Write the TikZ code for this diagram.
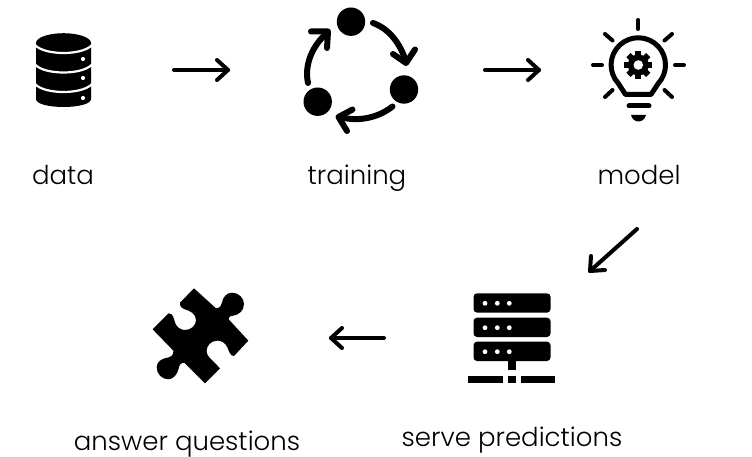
\documentclass[tikz,border=0pt]{standalone}
\usepackage{fontspec}
\setmainfont{Poppins}[UprightFont=* Light]
\usetikzlibrary{arrows.meta}
\tikzset{
  lbl/.style={anchor=base,inner sep=0pt,font=\fontsize{26}{30}\selectfont,text=black},
  flow/.style={line width=4pt,line cap=round,line join=round},
  cyc/.style={line width=6pt,line cap=round,line join=round},
  ray/.style={line width=4pt,line cap=round},
}
\begin{document}
\begin{tikzpicture}[x=1pt,y=-1pt]
\useasboundingbox (0,0) rectangle (752,457);
% labels
\node[lbl] (ldata) at (63,185) {data};
\node[lbl] (ltrain) at (357,185) {training};
\node[lbl] (lmodel) at (639,185) {model};
\node[lbl] (lserve) at (512,446) {serve predictions};
\node[lbl] (lanswer) at (187,450) {answer questions};
% flow arrows
\coordinate (a1s) at (174,70); \coordinate (a1e) at (228,70);
\coordinate (a1u) at (217,60); \coordinate (a1d) at (217,80);
\coordinate (a2s) at (485,70); \coordinate (a2e) at (539,70);
\coordinate (a2u) at (528,60); \coordinate (a2d) at (528,80);
\coordinate (a3s) at (637,229); \coordinate (a3e) at (590,271);
\coordinate (a3u) at (591,256); \coordinate (a3d) at (605,270);
\coordinate (a4s) at (384,338); \coordinate (a4e) at (331,338);
\coordinate (a4u) at (342,328); \coordinate (a4d) at (342,348);
\draw[flow] (a1s) -- (a1e); \draw[flow] (a1u) -- (a1e) -- (a1d);
\draw[flow] (a2s) -- (a2e); \draw[flow] (a2u) -- (a2e) -- (a2d);
\draw[flow] (a3s) -- (a3e); \draw[flow] (a3u) -- (a3e) -- (a3d);
\draw[flow] (a4s) -- (a4e); \draw[flow] (a4u) -- (a4e) -- (a4d);
% database
\fill (36,43) arc[start angle=180,end angle=360,x radius=27.5,y radius=9.8]
  -- (91,99) .. controls (91,104) and (78,107) .. (63.5,107) .. controls (49,107) and (36,104) .. (36,99) -- cycle;
\foreach \y in {45,64.5,84}{
  \draw[white,line width=2.2pt] (35,\y) .. controls (40,\y+5.5) and (52,\y+8) .. (63.5,\y+8) .. controls (75,\y+8) and (87,\y+5.5) .. (92,\y);
}
\foreach \y in {59,78,98}{\fill[white] (83,\y) circle[radius=2.1];}
% cycle
\fill (351,21.7) circle[radius=14.2];
\fill (404,89.5) circle[radius=14.2];
\fill (317.7,101.7) circle[radius=14.2];
\draw[cyc] (373,23) .. controls (390,29) and (401,45) .. (406,62);
\draw[cyc] (393,54) -- (406,63) -- (415,49.5);
\draw[cyc] (392.5,106.5) .. controls (378,118) and (358,122) .. (340,117);
\draw[cyc] (352.5,109.5) -- (338.5,117) -- (347,131);
\draw[cyc] (308,83) .. controls (304,64) and (313,45) .. (327,33);
\draw[cyc] (311,31.5) -- (328,31.5) -- (327,48);
% bulb
\draw[line width=5pt,line join=round] (625.5,94.5) -- (618.4,83.5) arc[start angle=137,end angle=403,radius=27.2] -- (651,94.5) -- cycle;
\draw[ray,line width=5pt] (629,106) -- (649,106);
\fill (631,115) -- (646,115) .. controls (645,119) and (642,121.5) .. (638.5,121.5) .. controls (635,121.5) and (632,119) .. (631,115) -- cycle;
\draw[ray] (638.3,20) -- (638.3,29);
\draw[ray] (593,65) -- (602,65);
\draw[ray] (675,65) -- (684,65);
\draw[ray] (605,34) -- (612.5,40.5);
\draw[ray] (672,34) -- (664.5,40.5);
\draw[ray] (605,97) -- (612.5,90);
\draw[ray] (672,97) -- (664.5,90);
\fill (638.3,65) circle[radius=10.5];
\foreach \a in {0,45,...,315}{
  \fill[rotate around={\a:(638.3,65)}] (635.3,51) rectangle (641.3,58);
}
\fill[white] (638.3,65) circle[radius=4.8];
% server
\foreach \y in {293.3,317.7,341.7}{
  \fill[rounded corners=3.5pt] (473.5,\y) rectangle (550.5,\y+19.3);
  \foreach \x in {485,497.3,509.3}{\fill[white] (\x,\y+10) circle[radius=2.4];}
}
\fill (508.3,361) rectangle (515.7,370);
\fill (468.3,375.7) rectangle (503.3,382.7);
\fill (508.3,375.7) rectangle (515.7,382.7);
\fill (520.7,375.7) rectangle (555.3,382.7);
% puzzle
\begin{scope}[shift={(140,280)},x=0.3333pt,y=-0.3333pt]
\fill (162,25) -- (228,85)
  .. controls (240,84) and (245,76) .. (246,68)
  .. controls (248,52) and (260,38) .. (276,38)
  .. controls (296,38) and (312,54) .. (312,72)
  .. controls (312,92) and (296,104) .. (284,106)
  .. controls (275,107) and (266,108) .. (266,118)
  -- (325,182) -- (282,228)
  .. controls (270,228) and (268,215) .. (262,202)
  .. controls (255,188) and (245,182) .. (232,182)
  .. controls (212,182) and (200,198) .. (200,212)
  .. controls (200,222) and (205,230) .. (208,232)
  -- (240,265) -- (195,310) -- (134,249)
  .. controls (122,246) and (118,256) .. (116,266)
  .. controls (112,285) and (98,298) .. (85,298)
  .. controls (66,298) and (50,282) .. (50,262)
  .. controls (50,245) and (66,236) .. (78,234)
  .. controls (92,232) and (102,226) .. (100,212)
  -- (38,148) -- (86,100)
  .. controls (100,100) and (102,118) .. (105,128)
  .. controls (110,142) and (122,150) .. (135,150)
  .. controls (154,150) and (168,136) .. (168,120)
  .. controls (168,102) and (150,92) .. (135,88)
  .. controls (125,85) and (118,78) .. (120,68)
  -- cycle;
\end{scope}
\end{tikzpicture}
\end{document}
